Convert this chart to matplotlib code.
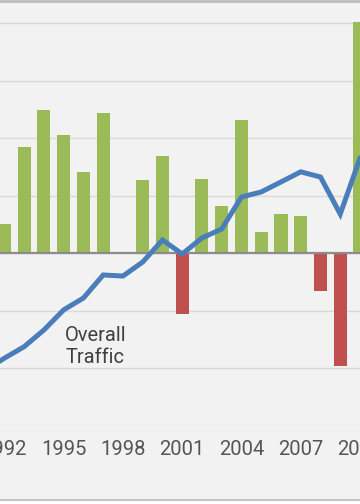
import numpy as np
import matplotlib
matplotlib.use("Agg")
import matplotlib.pyplot as plt

plt.rcParams['font.family'] = ['Roboto', 'DejaVu Sans']

# yearly growth (bars) and overall traffic (line)
years = np.arange(1991, 2012)
growth = [1.5, 2.6, 9.3, 12.5, 10.3, 7.1, 12.2, 0.0, 6.4, 8.5, -5.3,
          6.5, 4.1, 11.6, 1.9, 3.4, 3.3, -3.3, -9.75, 20.1, 6.0]
traffic = [-10.2, -9.1, -8.1, -6.65, -4.9, -3.87, -1.87, -1.96, -0.74, 1.17, -0.04,
           1.35, 2.13, 4.91, 5.35, 6.22, 7.1, 6.65, 3.43, 8.3, 9.0]
tick_years = [1992, 1995, 1998, 2001, 2004, 2007, 2010]
traffic_label = "Overall\nTraffic"

GREEN = '#9bbb59'
RED = '#c0504d'
BLUE = '#4a7ebb'
BG = '#f2f2f2'

fig = plt.figure(figsize=(3.6, 5.04), dpi=100)
fig.patch.set_facecolor(BG)
ax = fig.add_axes([0, 78 / 504, 1, 426 / 504])
ax.set_facecolor(BG)

colors = [GREEN if g >= 0 else RED for g in growth]
ax.bar(years, growth, width=0.66, color=colors, zorder=2)
ax.plot(years, traffic, color=BLUE, lw=3.6, solid_joinstyle='miter', zorder=3)
ax.axhline(0, color='#8c8c8c', lw=1.6, zorder=2.5)

ax.text(1996.6, -8.1, traffic_label, ha='center', va='center',
        fontsize=14.5, color='#404040', linespacing=1.2, zorder=4)

ax.set_ylim(-15, 22.04)
ax.set_yticks(np.arange(-15, 21, 5))
ax.yaxis.grid(True, color='#d9d9d9', lw=1.0, zorder=0)
ax.set_xlim(1991.775, 2009.775)
ax.set_xticks(tick_years)
ax.set_xticklabels([str(y) for y in tick_years])
ax.tick_params(axis='x', length=0, pad=10, labelsize=14.5, labelcolor='#555555')
ax.tick_params(axis='y', length=0, labelleft=False)
for s in ax.spines.values():
    s.set_visible(False)

# frame edges of the original screenshot
fig.add_artist(plt.Line2D([0, 1], [1 - 1 / 504, 1 - 1 / 504], transform=fig.transFigure,
                          color='#bdbdbd', lw=2.0))
fig.add_artist(plt.Line2D([0, 1], [4 / 504, 4 / 504], transform=fig.transFigure,
                          color='#c4c4c4', lw=1.5))
fig.add_artist(plt.Rectangle((0, 0), 1, 3 / 504, transform=fig.transFigure,
                             color='white', lw=0))

fig.savefig('out.png', dpi=100, facecolor=BG)
